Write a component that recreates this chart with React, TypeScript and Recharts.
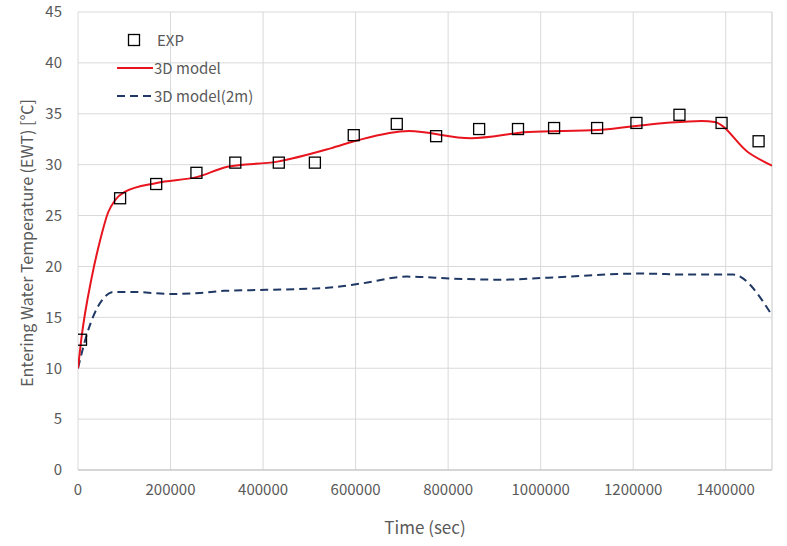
import React, { useEffect } from 'react';
import {
    ComposedChart,
    Line,
    Scatter,
    XAxis,
    YAxis,
    CartesianGrid,
    ReferenceLine,
} from 'recharts';

// measured points (EXP)
const expTime = [6500, 91000, 169000, 256000, 340000, 434000, 512000, 596000, 689000, 774000, 867000, 951000, 1029000, 1122000, 1207000, 1300000, 1391000, 1471000];
const expTemp = [12.8, 26.7, 28.1, 29.2, 30.2, 30.2, 30.2, 32.9, 34.0, 32.8, 33.5, 33.5, 33.6, 33.6, 34.1, 34.9, 34.1, 32.3];

// 3D model
const modelTime = [0, 7000, 30000, 48000, 65000, 80000, 100000, 170000, 258000, 323000, 431000, 546000, 605000, 715000, 849000, 973000, 1124000, 1268000, 1348000, 1376000, 1449000, 1500000];
const modelTemp = [10.0, 12.8, 19.0, 22.6, 25.3, 26.5, 27.3, 28.2, 28.8, 29.8, 30.3, 31.6, 32.4, 33.3, 32.6, 33.2, 33.4, 34.1, 34.3, 34.2, 31.2, 29.9];

// 3D model (2m)
const model2mTime = [0, 17000, 52000, 78000, 113000, 204000, 264000, 316000, 407000, 539000, 609000, 711000, 813000, 915000, 1016000, 1218000, 1320000, 1415000, 1500000];
const model2mTemp = [10.0, 13.0, 16.7, 17.5, 17.5, 17.3, 17.4, 17.6, 17.7, 17.9, 18.3, 19.0, 18.8, 18.7, 18.9, 19.3, 19.2, 19.2, 15.2];

const xTicks = [0, 200000, 400000, 600000, 800000, 1000000, 1200000, 1400000];
const yTicks = [0, 5, 10, 15, 20, 25, 30, 35, 40, 45];

const expData = expTime.map((t, i) => ({ x: t, y: expTemp[i] }));
const modelData = modelTime.map((t, i) => ({ x: t, y: modelTemp[i] }));
const model2mData = model2mTime.map((t, i) => ({ x: t, y: model2mTemp[i] }));

const FONT = '"Noto Sans CJK KR", "Noto Sans", sans-serif';
const TEXT = '#595959';
const GRID = '#d9d9d9';
const RED = '#e8141e';
const NAVY = '#203864';

const SquareMark = (props: any) => {
    const { cx, cy } = props;
    if (cx == null || cy == null) return null;
    return <rect x={cx - 5.5} y={cy - 5.5} width={11} height={11} fill="none" stroke="#000" strokeWidth={1.3} />;
};

const ChartLegend = () => (
    <div style={{ position: 'absolute', left: 117, top: 26, fontFamily: FONT, fontSize: 15, color: TEXT, lineHeight: '28px' }}>
        <div style={{ display: 'flex', alignItems: 'center' }}>
            <svg width={40} height={28}><rect x={11.5} y={8.5} width={11} height={11} fill="none" stroke="#000" strokeWidth={1.3} /></svg>
            <span>EXP</span>
        </div>
        <div style={{ display: 'flex', alignItems: 'center' }}>
            <svg width={37} height={28}><line x1={0} y1={14} x2={36} y2={14} stroke={RED} strokeWidth={2} /></svg>
            <span>3D model</span>
        </div>
        <div style={{ display: 'flex', alignItems: 'center' }}>
            <svg width={37} height={28}><line x1={0} y1={14} x2={36} y2={14} stroke={NAVY} strokeWidth={2} strokeDasharray="8 5" /></svg>
            <span>3D model(2m)</span>
        </div>
    </div>
);

export default function App() {
    useEffect(() => {
        document.body.style.margin = '0';
    }, []);

    return (
        <div style={{ position: 'relative', width: 787, height: 546, background: '#fff' }}>
            <ComposedChart width={787} height={546} margin={{ top: 12, right: 15, bottom: 0, left: 0 }}>
                <CartesianGrid stroke={GRID} strokeWidth={1} />
                <XAxis
                    type="number"
                    dataKey="x"
                    domain={[0, 1500000]}
                    ticks={xTicks}
                    allowDataOverflow
                    height={76}
                    tick={{ fill: TEXT, fontSize: 15, fontFamily: FONT }}
                    tickLine={false}
                    tickMargin={8}
                    stroke="#bfbfbf"
                    label={{ value: 'Time (sec)', position: 'insideBottom', offset: 12, fill: TEXT, fontSize: 17, fontFamily: FONT }}
                />
                <YAxis
                    type="number"
                    dataKey="y"
                    domain={[0, 45]}
                    ticks={yTicks}
                    width={78}
                    axisLine={false}
                    tickLine={false}
                    tickMargin={10}
                    tick={{ fill: TEXT, fontSize: 15, fontFamily: FONT }}
                    label={{ value: 'Entering Water Temperature (EWT) [℃]', angle: -90, position: 'insideLeft', offset: 27, dy: 2, style: { textAnchor: 'middle' }, fill: TEXT, fontSize: 16, fontFamily: FONT }}
                />
                <ReferenceLine x={1500000} stroke={GRID} />
                <Line
                    data={model2mData}
                    dataKey="y"
                    name="3D model(2m)"
                    type="monotone"
                    stroke={NAVY}
                    strokeWidth={2}
                    strokeDasharray="8 5"
                    dot={false}
                    isAnimationActive={false}
                />
                <Line
                    data={modelData}
                    dataKey="y"
                    name="3D model"
                    type="monotone"
                    stroke={RED}
                    strokeWidth={2}
                    dot={false}
                    isAnimationActive={false}
                />
                <Scatter
                    data={expData}
                    dataKey="y"
                    name="EXP"
                    shape={<SquareMark />}
                    isAnimationActive={false}
                />
            </ComposedChart>
            <ChartLegend />
        </div>
    );
}
